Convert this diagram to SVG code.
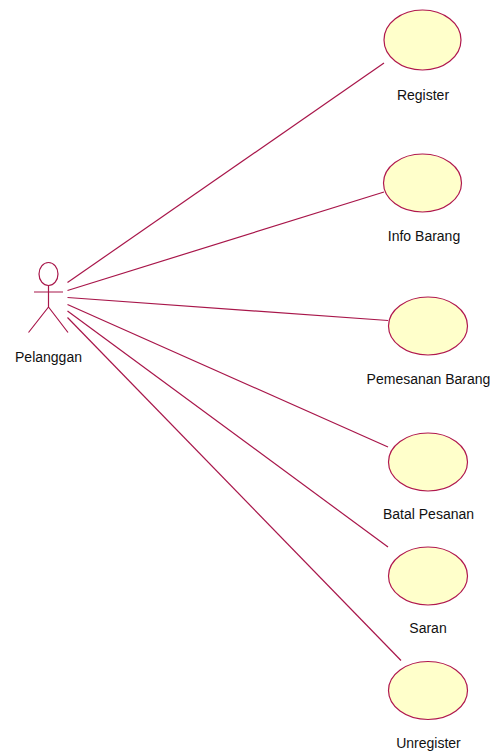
<svg xmlns="http://www.w3.org/2000/svg" width="497" height="755" viewBox="0 0 497 755">
<style>
.u{fill:#ffffcb;stroke:#b0184e;stroke-width:1.2}
.l{fill:none;stroke:#a8164a;stroke-width:1.2}
text{font-family:"Liberation Sans",Arial,sans-serif;font-size:14px;fill:#111;stroke:none;text-anchor:middle}
</style>
<rect width="497" height="755" fill="#fff"/>
<g id="connectors" class="l">
<path d="M67.500 282.500L384 63"/>
<path d="M67.500 290.500L384 192"/>
<path d="M67.500 297.500L388 320.500"/>
<path d="M67.500 304.500L388 447"/>
<path d="M67.500 311L388 547"/>
<path d="M67.500 317.500L401 660.500"/>
</g>
<g id="actor" class="l">
<ellipse cx="48.500" cy="274" rx="9.500" ry="11.500"/>
<path d="M34 292H63M48.500 285.500V307M48.500 307L28.500 332.500M48.500 307L68 332.500"/>
<text x="48.500" y="362">Pelanggan</text>
</g>
<g id="uc1"><ellipse class="u" cx="422.500" cy="40" rx="38.500" ry="30"/><text x="423" y="100">Register</text></g>
<g id="uc2"><ellipse class="u" cx="422.500" cy="183" rx="39" ry="29"/><text x="424" y="241">Info Barang</text></g>
<g id="uc3"><ellipse class="u" cx="428" cy="326" rx="39.500" ry="29"/><text x="428.500" y="384">Pemesanan Barang</text></g>
<g id="uc4"><ellipse class="u" cx="428" cy="462" rx="39.500" ry="29"/><text x="428.500" y="519">Batal Pesanan</text></g>
<g id="uc5"><ellipse class="u" cx="428" cy="576" rx="39.500" ry="29"/><text x="428" y="633">Saran</text></g>
<g id="uc6"><ellipse class="u" cx="428" cy="690.500" rx="39.500" ry="29"/><text x="428.500" y="748">Unregister</text></g>
</svg>
